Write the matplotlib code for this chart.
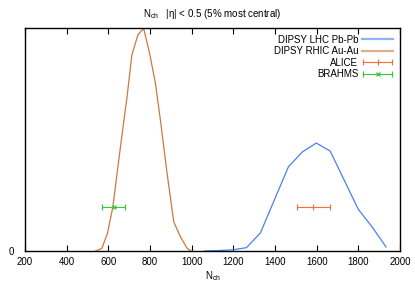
import matplotlib
matplotlib.use("Agg")
import matplotlib.pyplot as plt
from matplotlib.legend_handler import HandlerErrorbar

plt.rcParams['font.family'] = ['Liberation Sans', 'DejaVu Sans']
plt.rcParams['font.size'] = 7

# DIPSY LHC Pb-Pb
lhc_n = [1062, 1129, 1196, 1263, 1330, 1397, 1464, 1531, 1598, 1665, 1732, 1799, 1866, 1933]
lhc_y = [0.0, 0.002, 0.005, 0.015, 0.081, 0.229, 0.377, 0.444, 0.484, 0.448, 0.318, 0.188, 0.108, 0.018]

# DIPSY RHIC Au-Au
rhic_n = [540, 569, 596, 622, 646, 673, 689, 713, 742, 769, 798, 826, 850, 882, 914, 946, 978, 994, 1000]
rhic_y = [0.0, 0.012, 0.079, 0.199, 0.378, 0.573, 0.685, 0.879, 0.969, 0.999, 0.887, 0.752, 0.587,
          0.348, 0.131, 0.064, 0.012, 0.002, 0.0]

# data points
alice_n, alice_err, alice_y = 1584, 80, 0.199
brahms_n, brahms_err, brahms_y = 625, 55, 0.197

fig = plt.figure(figsize=(4.15, 2.91), dpi=100)
ax = fig.add_axes([0.0602, 0.1375, 0.9037, 0.7663])

ax.plot(lhc_n, lhc_y, color='#4a80ee', lw=0.9, label='DIPSY LHC Pb-Pb')
ax.plot(rhic_n, rhic_y, color='#c87a40', lw=0.9, label='DIPSY RHIC Au-Au')
ax.errorbar([alice_n], [alice_y], xerr=[alice_err], fmt='+', color='#ff6a35', ms=4,
            elinewidth=0.8, capsize=2, mew=0.8, label='ALICE')
ax.errorbar([brahms_n], [brahms_y], xerr=[brahms_err], fmt='x', color='#38c838', ms=3,
            elinewidth=0.8, capsize=2, mew=0.9, label='BRAHMS')

ax.set_xlim(200, 2000)
ax.set_ylim(0, 1.0)
ax.set_xticks(range(200, 2001, 200))
ax.set_yticks([0])
ax.tick_params(axis='x', direction='in', top=True, length=4, width=0.8, pad=4)
ax.tick_params(axis='y', direction='in', left=False, length=0, pad=8)
for s in ax.spines.values():
    s.set_linewidth(1.0)

ax.set_xlabel('N$_\\mathregular{ch}$', labelpad=2)
ax.set_title('N$_\\mathregular{ch}$   |η| < 0.5 (5% most central)', fontsize=7, pad=8)

leg = ax.legend(loc='upper right', frameon=False, markerfirst=False, handlelength=3.2,
                handletextpad=0.4, labelspacing=0.15, borderaxespad=0.3, alignment='right',
                handler_map={type(ax.containers[0]): HandlerErrorbar(xerr_size=1.5)})
for t in leg.get_texts():
    t.set_ha('right')
for h in leg.legend_handles[:2]:
    h.set_linewidth(1.6)
    h.set_alpha(0.6)

fig.savefig('out.png', dpi=100)
